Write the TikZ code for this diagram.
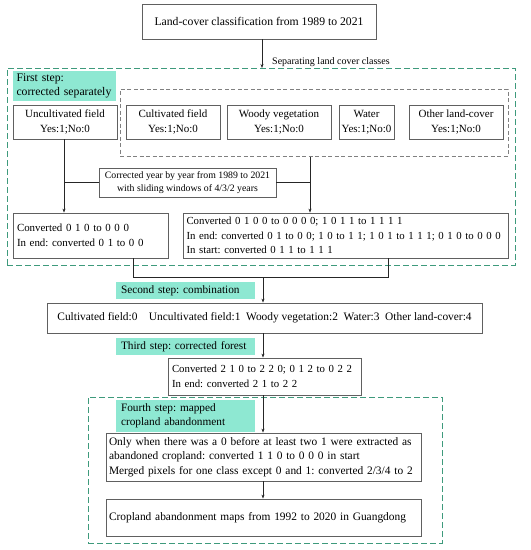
\documentclass[tikz,border=0pt]{standalone}
\usepackage{fontspec}
\setmainfont{Liberation Serif}
\usetikzlibrary{arrows.meta}
\definecolor{labgreen}{HTML}{8EE8D2}
\definecolor{dashgreen}{HTML}{3E9A7C}
\definecolor{boxgray}{HTML}{606060}
\newcommand{\fsz}[1]{\fontsize{#1}{14.5}\selectfont\frenchspacing}
\tikzset{
  box/.style={draw=boxgray, line width=0.8pt, inner sep=0pt, align=center, font=\fsz{11}},
  lbox/.style={box, align=left, text width=#1},
  steplabel/.style={fill=labgreen, inner ysep=0pt, inner xsep=5pt, align=left, font=\fsz{11.3}},
  greenframe/.style={draw=dashgreen, line width=1pt, dash pattern=on 6pt off 3pt, inner sep=0pt},
  grayframe/.style={draw=gray, line width=1pt, dash pattern=on 4pt off 2.5pt, inner sep=0pt},
  conn/.style={draw=black!85, line width=0.8pt},
  arr/.style={conn, -{Stealth[length=4pt,width=3pt]}}
}
\begin{document}
\begin{tikzpicture}[x=1pt,y=-1pt]
\useasboundingbox (0,0) rectangle (531,550);
% frames
\node[greenframe, minimum width=508pt, minimum height=197pt] (g1) at (261,166.5) {};
\node[greenframe, minimum width=354pt, minimum height=146pt] (g2) at (265,470) {};
\node[grayframe, minimum width=388pt, minimum height=67pt] (gray) at (314,122.5) {};
% top
\node[box, font=\fsz{11.7}, minimum width=234pt, minimum height=35pt] (top) at (259,21.5) {Land-cover classification from 1989 to 2021};
\coordinate (g1top) at (262,68);
\draw[arr] (top.south -| g1top) -- (g1top);
\node[font=\fsz{10}, inner sep=0pt, anchor=west] (sep) at (272,62.5) {Separating land cover classes};
% first step
\node[steplabel, inner xsep=3.5pt, minimum height=30pt, text width=96pt, font=\fsz{11.7}] (l1) at (64.5,86) {First step:\\corrected separately};
\node[box, minimum width=104pt, minimum height=34pt] (unc) at (65,122) {Uncultivated field\\Yes:1;No:0};
\node[box, minimum width=94pt, minimum height=34pt] (cul) at (173,122) {Cultivated field\\Yes:1;No:0};
\node[box, minimum width=104pt, minimum height=34pt] (woo) at (279,122) {Woody vegetation\\Yes:1;No:0};
\node[box, minimum width=55pt, minimum height=34pt] (wat) at (366.5,122) {Water\\Yes:1;No:0};
\node[box, minimum width=94pt, minimum height=34pt] (oth) at (456,122) {Other land-cover\\Yes:1;No:0};
\node[box, font=\fontsize{9.8}{13}\selectfont, minimum width=177pt, minimum height=29pt] (corr) at (187.5,182.5) {Corrected year by year from 1989 to 2021\\with sliding windows of 4/3/2 years};
\node[lbox=147pt, font=\fsz{10.9}, minimum width=155pt, minimum height=45pt] (lc) at (90.5,235.5) {Converted 0 1 0 to 0 0 0\\In end: converted 0 1 to 0 0};
\node[lbox=318pt, font=\fsz{10.8}, minimum width=325pt, minimum height=45pt] (rc) at (345.5,235.5) {Converted 0 1 0 0 to 0 0 0 0; 1 0 1 1 to 1 1 1 1\\In end: converted 0 1 to 0 0; 1 0 to 1 1; 1 0 1 to 1 1 1; 0 1 0 to 0 0 0\\In start: converted 0 1 1 to 1 1 1};
\coordinate (ux) at (64,0);
\coordinate (rx) at (310,0);
\draw[arr] (ux |- unc.south) -- (ux |- lc.north);
\draw[arr] (rx |- gray.south) -- (rx |- rc.north);
\draw[conn] (ux |- corr.west) -- (corr.west);
\draw[conn] (corr.east) -- (rx |- corr.east);
% merge
\coordinate (lx) at (133,277);
\coordinate (rrx) at (388,277);
\coordinate (mx) at (263,277);
\draw[conn] (lx |- lc.south) -- (lx) -- (rrx) -- (rrx |- rc.south);
% second
\node[box, font=\fsz{11.4}, minimum width=435pt, minimum height=30pt] (comb) at (264.5,318) {Cultivated field:0\quad Uncultivated field:1\ \ Woody vegetation:2\ \ Water:3\ \ Other land-cover:4};
\node[steplabel, minimum height=17pt, text width=129pt] (l2) at (185.5,290.5) {Second step: combination};
\draw[arr] (mx) -- (mx |- comb.north);
% third
\node[steplabel, minimum height=17pt, text width=129pt] (l3) at (185.5,346.5) {Third step: corrected forest};
\node[lbox=185pt, font=\fsz{10.8}, minimum width=193pt, minimum height=37pt] (third) at (264.5,376.5) {Converted 2 1 0 to 2 2 0; 0 1 2 to 0 2 2\\In end: converted 2 1 to 2 2};
\draw[arr] (mx |- comb.south) -- (mx |- third.north);
% fourth
\node[steplabel, minimum height=32pt, text width=129pt] (l4) at (185.5,416) {Fourth step: mapped\\cropland abandonment};
\node[lbox=309pt, font=\fsz{11.4}, minimum width=315pt, minimum height=48pt] (fourth) at (263.5,457) {Only when there was a 0 before at least two 1 were extracted as\\abandoned cropland: converted 1 1 0 to 0 0 0 in start\\Merged pixels for one class except 0 and 1: converted 2/3/4 to 2};
\draw[arr] (mx |- third.south) -- (mx |- fourth.north);
\node[lbox=309pt, font=\fsz{11.4}, minimum width=315pt, minimum height=37pt] (final) at (263.5,517.5) {Cropland abandonment maps from 1992 to 2020 in Guangdong};
\draw[arr] (mx |- fourth.south) -- (mx |- final.north);
\end{tikzpicture}
\end{document}
